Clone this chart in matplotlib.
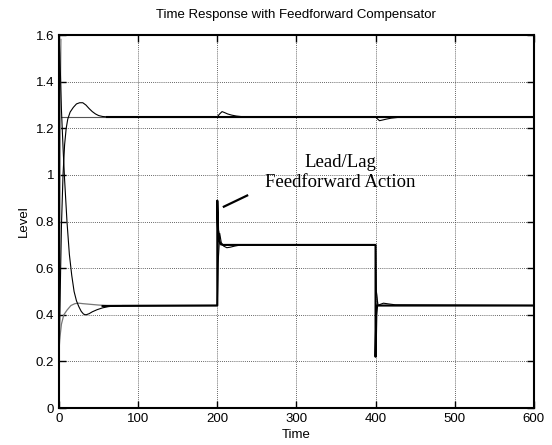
import numpy as np
import matplotlib.pyplot as plt

plt.rcParams['font.family'] = ['Liberation Sans', 'DejaVu Sans']

# thin response, upper tank (rises from low start to 1.25)
t_up = [0, 1, 2, 3, 5, 7, 9, 11, 14, 18, 22, 26, 30, 34, 38, 42, 46, 50, 55, 62, 70,
        200, 203, 206, 209, 213, 218, 224, 232, 400, 402, 405, 409, 414, 420, 428, 440, 600]
h_up = [0.26, 0.40, 0.60, 0.78, 1.00, 1.13, 1.20, 1.24, 1.27, 1.29, 1.305, 1.31, 1.31, 1.30, 1.285,
        1.272, 1.262, 1.255, 1.251, 1.249, 1.25,
        1.25, 1.262, 1.272, 1.268, 1.262, 1.257, 1.253, 1.25, 1.25, 1.242, 1.233, 1.236, 1.240, 1.244, 1.247, 1.25, 1.25]

# thin response, lower tank (falls from 1.6 to 0.44)
t_lo = [0, 1, 2, 3, 5, 7, 10, 13, 16, 19, 22, 25, 28, 31, 34, 38, 42, 48, 55, 62, 70, 80,
        200, 201, 203, 205, 208, 212, 216, 222, 230, 400, 401, 403, 406, 410, 416, 425, 600]
h_lo = [1.60, 1.52, 1.40, 1.28, 1.12, 0.98, 0.80, 0.66, 0.57, 0.50, 0.46, 0.435, 0.415, 0.403, 0.40,
        0.405, 0.413, 0.422, 0.43, 0.435, 0.438, 0.44,
        0.44, 0.62, 0.75, 0.71, 0.695, 0.688, 0.69, 0.695, 0.70, 0.70, 0.50, 0.44, 0.445, 0.45, 0.447, 0.443, 0.44]

# grey response, lower tank (rises from 0.25)
t_grey = [0, 1, 3, 6, 10, 15, 20, 25, 30, 40, 50, 60, 200, 201, 202, 204, 400, 401, 403, 600]
h_grey = [0.25, 0.30, 0.36, 0.40, 0.42, 0.44, 0.448, 0.45, 0.448, 0.445, 0.442, 0.44,
          0.44, 0.60, 0.76, 0.70, 0.70, 0.50, 0.44, 0.44]

# grey initial transient near t = 0
t_init = [0, 0.5, 1.0, 1.5, 2.0]
h_init = [0.30, 0.70, 1.10, 1.45, 1.58]

# setpoint of upper tank
t_sp = [0, 600]
h_sp = [1.25, 1.25]

# thick response with feedforward, lower tank
t_ff = [55, 200, 200, 201, 202, 204, 207, 400, 400, 401, 402, 600]
h_ff = [0.438, 0.44, 0.89, 0.76, 0.72, 0.705, 0.70, 0.70, 0.22, 0.40, 0.44, 0.44]

# thick response with feedforward, upper tank
t_ffu = [60, 600]
h_ffu = [1.25, 1.25]

fig = plt.figure(figsize=(5.52, 4.45), dpi=100)
ax = fig.add_axes([0.107, 0.083, 0.860, 0.838])

ax.plot(t_sp, h_sp, color='#555555', lw=0.8)
ax.plot(t_init, h_init, color='#999999', lw=1.5)
ax.plot(t_grey, h_grey, color='#777777', lw=0.9)
ax.plot(t_up, h_up, color='black', lw=0.8)
ax.plot(t_lo, h_lo, color='black', lw=0.8)
ax.plot(t_ff, h_ff, color='black', lw=1.5)
ax.plot(t_ffu, h_ffu, color='black', lw=1.5)

# annotation pointer
ax.plot([207, 239], [0.862, 0.914], color='black', lw=1.6, solid_capstyle='butt')
ax.text(355, 1.01, 'Lead/Lag\nFeedforward Action', ha='center', va='center',
        family=['Liberation Serif', 'DejaVu Serif'], fontsize=13.5, linespacing=1.25)

ax.set_xlim(0, 600)
ax.set_ylim(0, 1.6)
ax.set_xticks([0, 100, 200, 300, 400, 500, 600])
ax.set_yticks([0, 0.2, 0.4, 0.6, 0.8, 1.0, 1.2, 1.4, 1.6])
ax.set_yticklabels(['0', '0.2', '0.4', '0.6', '0.8', '1', '1.2', '1.4', '1.6'])
ax.grid(True, color='#333333', linestyle=(0, (1, 1.5)), lw=0.6)
ax.tick_params(direction='in', length=5, width=1, top=True, right=True, labelsize=9.5)
for s in ax.spines.values():
    s.set_linewidth(1.5)

ax.set_title('Time Response with Feedforward Compensator', fontsize=9.5, pad=12)
ax.set_xlabel('Time', fontsize=9.5, labelpad=3)
ax.set_ylabel('Level', fontsize=9.5, labelpad=4)

fig.savefig('out.png', dpi=100)
